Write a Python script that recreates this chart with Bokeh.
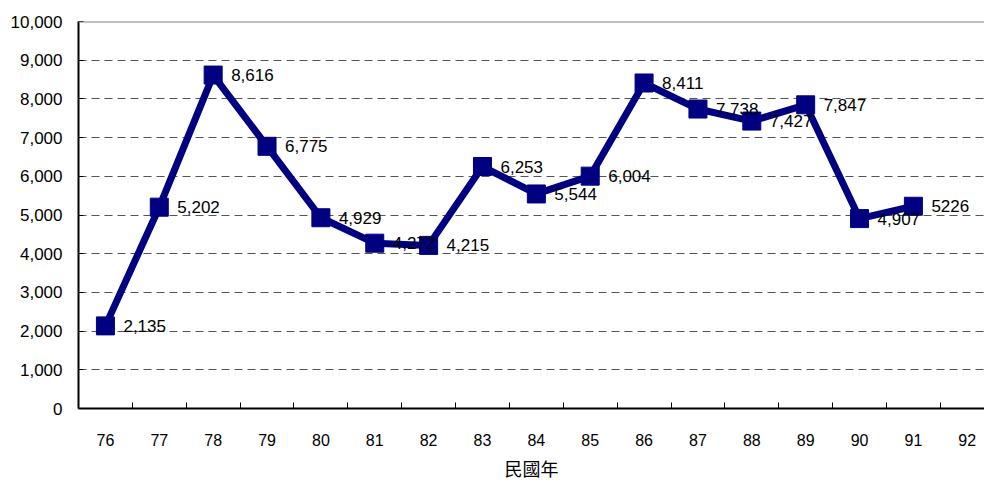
from bokeh.plotting import figure
from bokeh.models import (ColumnDataSource, Range1d, FixedTicker, NumeralTickFormatter,
                          Span, LabelSet)
from bokeh.core.properties import value
from bokeh.embed import file_html
from bokeh.resources import INLINE

# ---- data ----
years = [76, 77, 78, 79, 80, 81, 82, 83, 84, 85, 86, 87, 88, 89, 90, 91]
counts = [2135, 5202, 8616, 6775, 4929, 4272, 4215, 6253, 5544, 6004,
          8411, 7738, 7427, 7847, 4907, 5226]
point_labels = ["2,135", "5,202", "8,616", "6,775", "4,929", "4,272", "4,215",
                "6,253", "5,544", "6,004", "8,411", "7,738", "7,427", "7,847",
                "4,907", "5226"]
x_ticks = list(range(76, 93))
y_ticks = list(range(0, 10001, 1000))
x_title = "民國年"

src = ColumnDataSource(dict(x=years, y=counts, lbl=point_labels))

p = figure(width=984, height=483, output_backend="svg", toolbar_location=None,
           x_range=Range1d(75.5, 92.32), y_range=Range1d(0, 10000),
           min_border_left=78, min_border_top=21, min_border_right=0,
           min_border_bottom=75)
p.outline_line_color = None
p.background_fill_color = "white"
p.border_fill_color = "white"

# top frame line
p.add_layout(Span(location=10000, dimension="width", line_color="#808080", line_width=2))

# grid
p.xgrid.grid_line_color = None
p.ygrid.ticker = FixedTicker(ticks=y_ticks[1:])
p.ygrid.grid_line_color = "#555555"
p.ygrid.grid_line_dash = "8 5"
p.ygrid.grid_line_width = 1

# x axis
xa = p.xaxis[0]
xa.ticker = FixedTicker(ticks=x_ticks, minor_ticks=[t + 0.5 for t in x_ticks[:-1]])
xa.major_tick_line_color = None
xa.minor_tick_line_color = "black"
xa.minor_tick_in = 6
xa.minor_tick_out = 0
xa.axis_line_color = "black"
xa.axis_line_width = 2
xa.major_label_text_font = "Liberation Sans"
xa.major_label_text_font_size = "16px"
xa.major_label_text_color = "black"
xa.major_label_standoff = 19
xa.axis_label = x_title
xa.axis_label_text_font = "Noto Sans CJK TC"
xa.axis_label_text_font_size = "18px"
xa.axis_label_text_font_style = "normal"
xa.axis_label_text_color = "black"
xa.axis_label_standoff = 6

# y axis
ya = p.yaxis[0]
ya.ticker = FixedTicker(ticks=y_ticks)
ya.formatter = NumeralTickFormatter(format="0,0")
ya.major_tick_in = 5
ya.major_tick_out = 0
ya.minor_tick_line_color = None
ya.axis_line_color = "black"
ya.axis_line_width = 2
ya.major_tick_line_color = "black"
ya.major_label_text_font = "Liberation Sans"
ya.major_label_text_font_size = "17px"
ya.major_label_text_color = "black"
ya.major_label_standoff = 16

# series
p.line("x", "y", source=src, line_color="#000080", line_width=7)
p.scatter("x", "y", source=src, marker="square", size=18,
          fill_color="#000080", line_color="#000080")

labels = LabelSet(x="x", y="y", text="lbl", source=src, x_offset=18, y_offset=0,
                  text_baseline="middle", text_align="left",
                  text_font=value("Liberation Sans"), text_font_size="17px",
                  text_color="black")
p.add_layout(labels)

open("out.html", "w").write(file_html(p, INLINE))
